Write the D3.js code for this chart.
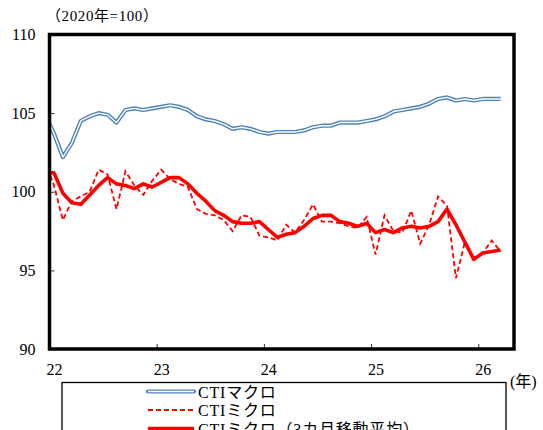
<!DOCTYPE html>
<html>
<head>
<meta charset="utf-8">
<script src="https://cdn.jsdelivr.net/npm/d3@7"></script>
<style>
  body { margin: 0; background: #fff; }
  text { font-family: "Liberation Serif", "Noto Sans CJK JP", serif; fill: #000; }
</style>
</head>
<body>
<div id="chart"></div>
<script>
// months Dec 2021 .. Mar 2026 (first one is clipped by the axis)
var months = d3.timeMonth.range(new Date(2021, 11, 1), new Date(2026, 3, 1));
var yearLabels = ["22", "23", "24", "25", "26"];
var yTicks = [90, 95, 100, 105, 110];

var ctiMacro = [104.9, 103.7, 102.2, 103.1, 104.5, 104.8, 105.0, 104.9, 104.4, 105.2, 105.3, 105.2, 105.3,
  105.4, 105.5, 105.4, 105.2, 104.8, 104.6, 104.5, 104.3, 104.0, 104.1, 104.0, 103.8,
  103.7, 103.8, 103.8, 103.8, 103.9, 104.1, 104.2, 104.2, 104.4, 104.4, 104.4, 104.5,
  104.6, 104.8, 105.1, 105.2, 105.3, 105.4, 105.6, 105.9, 106.0, 105.8, 105.9, 105.8,
  105.9, 105.9, 105.9];
var ctiMicro = [102.0, 100.4, 98.2, 99.4, 99.7, 100.0, 101.4, 101.1, 98.9, 101.3, 100.4, 99.8, 100.7,
  101.4, 100.8, 100.5, 100.3, 98.9, 98.6, 98.5, 98.2, 97.5, 98.5, 98.4, 97.2,
  97.1, 96.9, 97.9, 97.4, 98.2, 99.2, 98.1, 98.1, 98.0, 97.8, 97.7, 98.4,
  96.0, 98.5, 97.5, 97.4, 98.8, 96.7, 97.9, 99.7, 99.1, 94.5, 96.8, 95.8,
  96.1, 96.9, 96.2];
var ctiMicroMA = [101.2, 101.2, 99.9, 99.3, 99.2, 99.8, 100.4, 100.9, 100.5, 100.4, 100.2, 100.5, 100.3,
  100.6, 100.9, 100.9, 100.5, 99.9, 99.4, 98.8, 98.5, 98.1, 98.0, 98.0, 98.1,
  97.6, 97.1, 97.3, 97.4, 97.8, 98.3, 98.5, 98.5, 98.1, 98.0, 97.8, 98.0,
  97.4, 97.6, 97.4, 97.7, 97.8, 97.7, 97.8, 98.1, 98.9, 97.9, 96.8, 95.7,
  96.1, 96.2, 96.3];

var svgWidth = 543, svgHeight = 430;
var plot = { left: 49.5, top: 34.5, right: 514, bottom: 349 };

var svg = d3.select("#chart").append("svg")
  .attr("width", svgWidth)
  .attr("height", svgHeight);

// index -1 = Dec 2021, 0 = Jan 2022 ...
var xscale = d3.scaleLinear().domain([-0.5, 51.5]).range([plot.left, plot.right]);
var yscale = d3.scaleLinear().domain([90, 110]).range([plot.bottom, plot.top]);

svg.append("clipPath").attr("id", "clip")
  .append("rect")
  .attr("x", plot.left).attr("y", plot.top)
  .attr("width", plot.right - plot.left).attr("height", plot.bottom - plot.top);

// axes with inward ticks
svg.append("g")
  .attr("transform", `translate(0, ${plot.bottom})`)
  .call(d3.axisBottom(xscale).tickValues([11.5, 23.5, 35.5, 47.5]).tickSize(-5).tickFormat(""))
  .call(g => g.select(".domain").remove())
  .call(g => g.selectAll("line").attr("stroke", "#333"));

svg.append("g")
  .attr("transform", `translate(0, ${plot.bottom + 21})`)
  .call(d3.axisBottom(xscale).tickValues([0, 12, 24, 36, 48]).tickSize(0)
    .tickFormat((d, i) => yearLabels[i]))
  .call(g => g.select(".domain").remove())
  .call(g => g.selectAll("text").attr("font-size", 16).attr("dy", 0).attr("y", 5)
    .style("font-family", "'Liberation Serif', serif"));

svg.append("g")
  .attr("transform", `translate(${plot.left}, 0)`)
  .call(d3.axisLeft(yscale).tickValues(yTicks).tickSize(-5).tickPadding(14).tickFormat(d3.format("d")))
  .call(g => g.select(".domain").remove())
  .call(g => g.selectAll("line").attr("stroke", "#333"))
  .call(g => g.selectAll("text").attr("font-size", 16)
    .style("font-family", "'Liberation Serif', serif"));

var line = d3.line()
  .x((d, i) => xscale(i - 1))
  .y(d => yscale(d));

var lines = svg.append("g").attr("clip-path", "url(#clip)");

// blue double line
lines.append("path").datum(ctiMacro)
  .attr("d", line).attr("fill", "none")
  .attr("stroke", "#4f81bd").attr("stroke-width", 4.2).attr("stroke-linejoin", "round");
lines.append("path").datum(ctiMacro)
  .attr("d", line).attr("fill", "none")
  .attr("stroke", "#fff").attr("stroke-width", 1.4).attr("stroke-linejoin", "round");

lines.append("path").datum(ctiMicro)
  .attr("d", line).attr("fill", "none")
  .attr("stroke", "#ff0000").attr("stroke-width", 1.8)
  .attr("stroke-dasharray", "5,3");

lines.append("path").datum(ctiMicroMA)
  .attr("d", line).attr("fill", "none")
  .attr("stroke", "#ff0000").attr("stroke-width", 3.6).attr("stroke-linejoin", "round");

// plot border
svg.append("rect")
  .attr("x", plot.left).attr("y", plot.top)
  .attr("width", plot.right - plot.left).attr("height", plot.bottom - plot.top)
  .attr("fill", "none").attr("stroke", "#000").attr("stroke-width", 3.5);

// unit labels
svg.append("text")
  .attr("x", 46).attr("y", 21)
  .attr("font-size", 15)
  .attr("letter-spacing", 0.6)
  .text("（2020年=100）");

svg.append("text")
  .attr("x", 510).attr("y", 387)
  .attr("font-size", 16)
  .text("(年)");

// legend
svg.append("rect")
  .attr("x", 62).attr("y", 382.5)
  .attr("width", 444).attr("height", 80)
  .attr("fill", "#fff").attr("stroke", "#000").attr("stroke-width", 1.3);

var legendItems = ["CTIマクロ", "CTIミクロ", "CTIミクロ（3カ月移動平均）"];
var legendY = [391.5, 410, 428.5];

legendItems.forEach(function(name, i) {
  var y = legendY[i];
  if (i === 0) {
    svg.append("line").attr("x1", 148).attr("x2", 194).attr("y1", y).attr("y2", y)
      .attr("stroke", "#4f81bd").attr("stroke-width", 4.2).attr("stroke-linecap", "round");
    svg.append("line").attr("x1", 148).attr("x2", 194).attr("y1", y).attr("y2", y)
      .attr("stroke", "#fff").attr("stroke-width", 1.4);
  } else if (i === 1) {
    svg.append("line").attr("x1", 148).attr("x2", 194).attr("y1", y).attr("y2", y)
      .attr("stroke", "#ff0000").attr("stroke-width", 1.8).attr("stroke-dasharray", "5,3");
  } else {
    svg.append("line").attr("x1", 148).attr("x2", 194).attr("y1", y).attr("y2", y)
      .attr("stroke", "#ff0000").attr("stroke-width", 3.6);
  }
  svg.append("text")
    .attr("x", 198).attr("y", y + 6)
    .attr("font-size", 16)
    .attr("letter-spacing", 0.8)
    .text(name);
});
</script>
</body>
</html>
